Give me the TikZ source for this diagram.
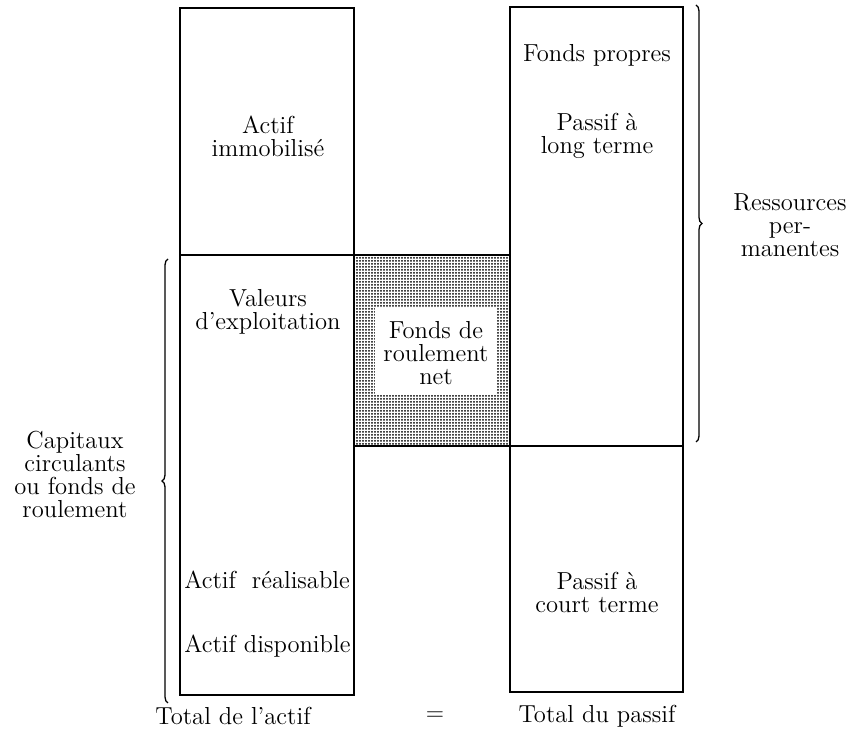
\documentclass[tikz,border=0pt]{standalone}
\usetikzlibrary{decorations.pathreplacing,patterns.meta}
\begin{document}
\begin{tikzpicture}[x=0.5pt,y=-0.5pt,
  txt/.style={font=\fontsize{12.3}{11.5}\selectfont, align=center, inner sep=0pt},
  box/.style={draw, line width=0.65pt},
  brc/.style={draw, line width=0.65pt, decorate, decoration={brace, amplitude=3pt}}]
\useasboundingbox (0,0) rectangle (858,747);
% shaded working capital area
\fill[pattern={Dots[distance=1.5pt, radius=0.5pt]}] (354,255) rectangle (510,446);
\fill[white] (375,308) rectangle (497,395);
% boxes
\draw[box] (180,8) rectangle (354,695);
\draw[box] (510,7) rectangle (683,692);
\draw[box] (180,255) -- (510,255);
\draw[box] (354,446) -- (683,446);
% braces
\coordinate (lb1) at (168,703);
\coordinate (lb2) at (168,259);
\coordinate (rb1) at (696,5);
\coordinate (rb2) at (696,442);
\draw[brc] (lb1) -- (lb2);
\draw[brc] (rb1) -- (rb2);
% texts
\node[txt] (ai) at (268,136) {Actif\\immobilisé};
\node[txt] (fp) at (597,55) {Fonds propres};
\node[txt] (plt) at (597,136) {Passif à\\long terme};
\node[txt] (ve) at (268,312) {Valeurs\\d'exploitation};
\node[txt] (frn) at (436,353) {Fonds de\\roulement\\net};
\node[txt] (rp) at (790,225) {Ressources\\per-\\manentes};
\node[txt] (cc) at (75,474) {Capitaux\\circulants\\ou fonds de\\roulement};
\node[txt, anchor=west] (ar) at (184,580) {Actif\ \ réalisable};
\node[txt, anchor=west] (ad) at (184,646) {Actif disponible};
\node[txt] (pct) at (597,592) {Passif à\\court terme};
\node[txt] (ta) at (233,716) {Total de l'actif};
\node[txt] (eq) at (435,716) {$=$};
\node[txt] (tp) at (597,716) {Total du passif};
\end{tikzpicture}
\end{document}
